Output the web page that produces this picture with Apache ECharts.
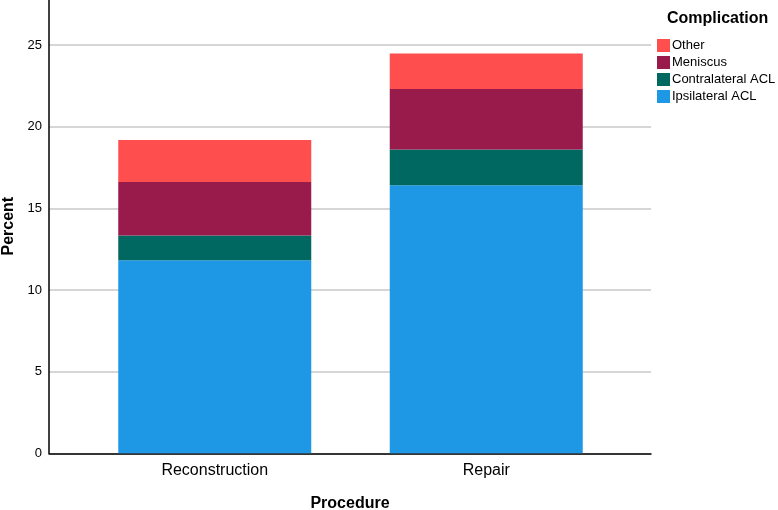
<!DOCTYPE html>
<html><head><meta charset="utf-8">
<script src="https://cdn.jsdelivr.net/npm/echarts@6/dist/echarts.min.js"></script>
<style>html,body{margin:0;padding:0;background:#fff}#c{width:778px;height:510px}</style>
</head><body><div id="c"></div>
<script>
const categories = ['Reconstruction', 'Repair'];
const ipsilateral = [11.82, 16.41];
const contralateral = [1.51, 2.20];
const meniscus = [3.28, 3.70];
const other = [2.58, 2.18];
const yTicks = [0, 5, 10, 15, 20, 25];
const yMax = 27.82;

const colors = { ipsi: '#1e98e4', contra: '#016761', men: '#981b4c', other: '#fe4e4e' };
const font = 'Liberation Sans, Arial, sans-serif';

const chart = echarts.init(document.getElementById('c'));
const bar = (name, data, color) => ({
  name, type: 'bar', stack: 'total', data, xAxisIndex: 1, yAxisIndex: 1,
  barWidth: 193, itemStyle: { color }, emphasis: { disabled: true }
});
chart.setOption({
  animation: false,
  textStyle: { fontFamily: font },
  title: { text: 'Complication', left: 662, top: 6, textStyle: { fontSize: 16, fontWeight: 'bold', color: '#000', fontFamily: font } },
  legend: {
    orient: 'vertical', left: 652, top: 34, itemWidth: 13, itemHeight: 13, itemGap: 4, icon: 'rect',
    data: ['Other', 'Meniscus', 'Contralateral ACL', 'Ipsilateral ACL'],
    textStyle: { fontSize: 13, color: '#000', padding: [0, 0, 0, -3] }
  },
  grid: [
    { left: 49, right: 127, top: -1, bottom: 56.7, outerBoundsMode: 'none', containLabel: false },
    { left: 79, right: 156, top: -1, bottom: 56.7, outerBoundsMode: 'none', containLabel: false }
  ],
  xAxis: [
    { type: 'category', gridIndex: 0, data: [''], axisLine: { lineStyle: { color: '#000', width: 1.5 } },
      axisTick: { show: false }, axisLabel: { show: false },
      name: 'Procedure', nameLocation: 'middle', nameGap: 42,
      nameTextStyle: { fontSize: 16, fontWeight: 'bold', color: '#000' } },
    { type: 'category', gridIndex: 1, data: categories, axisLine: { show: false }, axisTick: { show: false },
      axisLabel: { fontSize: 16, color: '#000', margin: 9 } }
  ],
  yAxis: [
    { type: 'value', gridIndex: 0, min: 0, max: yMax, interval: 5,
      axisLine: { show: true, lineStyle: { color: '#000', width: 1.5 } }, axisTick: { show: false },
      axisLabel: { fontSize: 13, color: '#000', margin: 7, showMaxLabel: false,
        formatter: v => yTicks.includes(v) ? String(v) : '' },
      splitLine: { lineStyle: { color: '#c8c8c8', width: 1.5 } },
      name: 'Percent', nameLocation: 'middle', nameGap: 31, nameRotate: 90,
      nameTextStyle: { fontSize: 16, fontWeight: 'bold', color: '#000' } },
    { type: 'value', gridIndex: 1, min: 0, max: yMax, interval: 5, show: false }
  ],
  series: [
    bar('Ipsilateral ACL', ipsilateral, colors.ipsi),
    bar('Contralateral ACL', contralateral, colors.contra),
    bar('Meniscus', meniscus, colors.men),
    bar('Other', other, colors.other)
  ]
});
</script></body></html>
